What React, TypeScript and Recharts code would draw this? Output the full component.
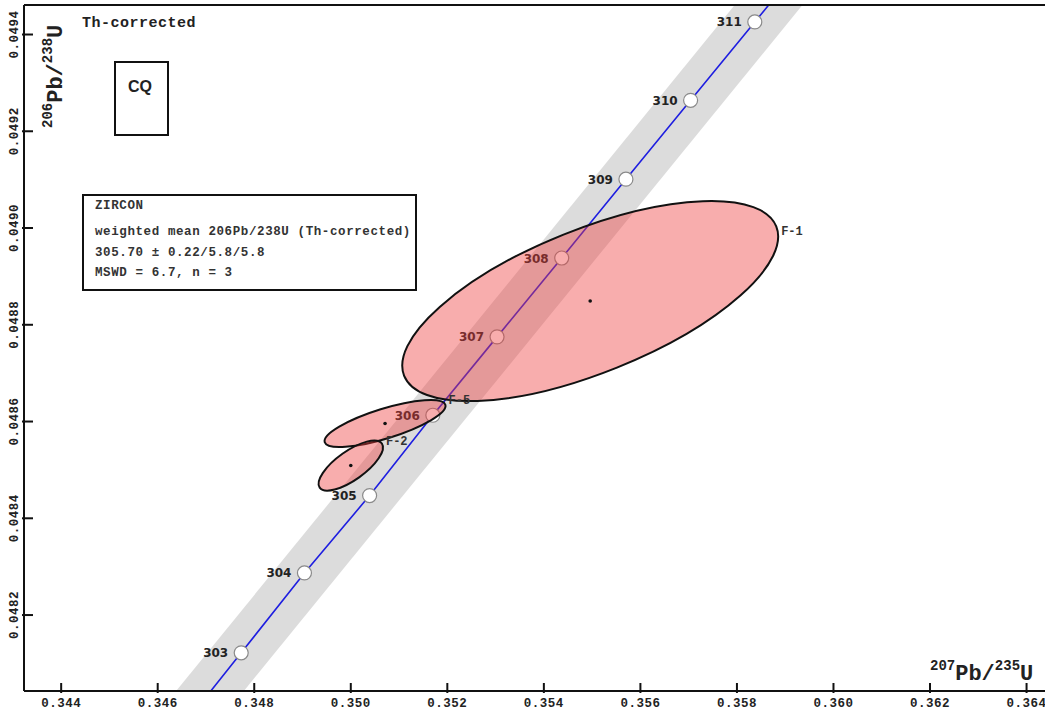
import {
  Area,
  ComposedChart,
  Line,
  ReferenceArea,
  ReferenceLine,
  Scatter,
  XAxis,
  YAxis,
} from "recharts";

const MONO = "'Liberation Mono', 'DejaVu Sans Mono', monospace";
const SANS = "'DejaVu Sans', 'Liberation Sans', sans-serif";

// 207Pb/235U (x) and 206Pb/238U (y) ranges
const X_DOMAIN: [number, number] = [0.34323, 0.3649];
const Y_DOMAIN: [number, number] = [0.048043, 0.049461];
const X_TICKS = [0.344, 0.346, 0.348, 0.35, 0.352, 0.354, 0.356, 0.358, 0.36, 0.362, 0.364];
const Y_TICKS = [0.0482, 0.0484, 0.0486, 0.0488, 0.049, 0.0492, 0.0494];

// concordia, ages in Ma
const AGES = [302, 303, 304, 305, 306, 307, 308, 309, 310, 311, 312];
const CONC_X = [0.34643, 0.34773, 0.34904, 0.35039, 0.3517, 0.35303, 0.35437, 0.3557, 0.35704, 0.35837, 0.35971];
const CONC_Y = [0.047959, 0.048122, 0.048287, 0.048447, 0.048613, 0.048775, 0.048938, 0.049101, 0.049264, 0.049426, 0.049589];
const MARKED_AGES = [303, 304, 305, 306, 307, 308, 309, 310, 311];

// decay-constant uncertainty envelope
const BAND_X = [0.3455, 0.3605];
const BAND_LO = [0.047763, 0.049601];
const BAND_HI = [0.047935, 0.049773];

// zircon spots: centre, 2-sigma half-widths, error correlation
const SPOT_NAMES = ["F-1", "F-5", "F-2"];
const SPOT_X = [0.35496, 0.35071, 0.35];
const SPOT_Y = [0.048849, 0.048596, 0.048509];
const SPOT_SX = [0.003894, 0.001253, 0.000667];
const SPOT_SY = [0.0002068, 0.0000486, 0.0000517];
const SPOT_RHO = [0.645, 0.75, 0.73];

const concordia = AGES.map((age, i) => ({ age, x: CONC_X[i], y: CONC_Y[i] }));
const markers = concordia.filter((p) => MARKED_AGES.includes(p.age));
const band = BAND_X.map((x, i) => ({ x, range: [BAND_LO[i], BAND_HI[i]] }));

const XTick = ({ x, y, payload }: any) => (
  <g>
    <line x1={x} x2={x} y1={y} y2={y - 10} stroke="#111" strokeWidth={2} />
    <text
      x={x}
      y={y + 14}
      textAnchor="middle"
      fontFamily={MONO}
      fontWeight="bold"
      fontSize={12.5}
      letterSpacing={0.5}
      fill="#222"
    >
      {payload.value.toFixed(3)}
    </text>
  </g>
);

const YTick = ({ x, y, payload }: any) => (
  <g>
    <line x1={x} x2={x + 11} y1={y} y2={y} stroke="#111" strokeWidth={2} />
    <text
      transform={`translate(${x - 4},${y}) rotate(-90)`}
      textAnchor="middle"
      fontFamily={MONO}
      fontWeight="bold"
      fontSize={12.5}
      letterSpacing={0.5}
      fill="#222"
    >
      {payload.value.toFixed(4)}
    </text>
  </g>
);

const AgeMarker = ({ cx, cy, payload }: any) => (
  <g>
    <circle cx={cx} cy={cy} r={7} fill="#fff" stroke="#8a8a8a" strokeWidth={1.2} />
    <text
      x={cx - 13}
      y={cy + 4.5}
      textAnchor="end"
      fontFamily={SANS}
      fontWeight="bold"
      fontSize={12}
      fill="#222"
    >
      {payload.age}
    </text>
  </g>
);

// ellipse inscribed in the ReferenceArea box, tilted by the error correlation
const ErrorEllipse = ({ x, y, width, height, rho, name }: any) => {
  const cx = x + width / 2;
  const cy = y + height / 2;
  const w = width / 2;
  const h = height / 2;
  const a = w * w;
  const c = h * h;
  const b = -rho * w * h;
  const d = Math.sqrt(((a - c) / 2) ** 2 + b * b);
  const rx = Math.sqrt((a + c) / 2 + d);
  const ry = Math.sqrt(Math.max((a + c) / 2 - d, 0));
  const angle = (Math.atan2(2 * b, a - c) * 90) / Math.PI;
  return (
    <g>
      <ellipse
        cx={cx}
        cy={cy}
        rx={rx}
        ry={ry}
        transform={`rotate(${angle} ${cx} ${cy})`}
        fill="#ee3b3b"
        fillOpacity={0.42}
        stroke="#111"
        strokeWidth={2}
      />
      <circle cx={cx} cy={cy} r={1.8} fill="#111" />
      <text
        x={cx + w + 3}
        y={cy - rho * h - 2}
        fontFamily={MONO}
        fontWeight="bold"
        fontSize={12}
        fill="#333"
      >
        {name}
      </text>
    </g>
  );
};

export default function App() {
  return (
    <div
      style={{
        position: "absolute",
        left: 0,
        top: 0,
        width: 1045,
        height: 711,
        overflow: "hidden",
        background: "#fff",
      }}
    >
      <ComposedChart width={1080} height={711} margin={{ top: 5, right: 10, bottom: 0, left: 0 }}>
        <XAxis
          type="number"
          dataKey="x"
          domain={X_DOMAIN}
          ticks={X_TICKS}
          interval={0}
          allowDataOverflow
          height={20}
          tickSize={0}
          tickLine={false}
          axisLine={{ stroke: "#111", strokeWidth: 2 }}
          tick={(p: any) => <XTick {...p} />}
        />
        <YAxis
          type="number"
          dataKey="y"
          domain={Y_DOMAIN}
          ticks={Y_TICKS}
          interval={0}
          allowDataOverflow
          width={24}
          tickSize={0}
          tickLine={false}
          axisLine={{ stroke: "#111", strokeWidth: 2 }}
          tick={(p: any) => <YTick {...p} />}
        />
        <Area
          data={band}
          dataKey="range"
          type="linear"
          stroke="none"
          fill="#dcdcdc"
          fillOpacity={1}
          isAnimationActive={false}
        />
        <Line
          data={concordia}
          dataKey="y"
          type="linear"
          stroke="#1e1ee0"
          strokeWidth={1.6}
          dot={false}
          isAnimationActive={false}
        />
        <Scatter data={markers} shape={AgeMarker} isAnimationActive={false} />
        {SPOT_NAMES.map((name, i) => (
          <ReferenceArea
            key={name}
            x1={SPOT_X[i] - SPOT_SX[i]}
            x2={SPOT_X[i] + SPOT_SX[i]}
            y1={SPOT_Y[i] - SPOT_SY[i]}
            y2={SPOT_Y[i] + SPOT_SY[i]}
            zIndex={700}
            shape={(p: any) => <ErrorEllipse {...p} rho={SPOT_RHO[i]} name={name} />}
          />
        ))}
        <ReferenceLine y={Y_DOMAIN[1]} stroke="#111" strokeWidth={2} />
      </ComposedChart>

      <svg
        width={1045}
        height={711}
        style={{ position: "absolute", left: 0, top: 0, pointerEvents: "none" }}
      >
        <text x={82} y={27} fontFamily={MONO} fontWeight="bold" fontSize={15} letterSpacing={0.5} fill="#222">
          Th-corrected
        </text>

        <rect x={115} y={62} width={53} height={73} fill="none" stroke="#111" strokeWidth={2} />
        <text x={140} y={92} textAnchor="middle" fontFamily="'Liberation Sans', Arial, sans-serif" fontWeight="bold" fontSize={16} fill="#222">
          CQ
        </text>

        <rect x={83} y={195} width={333} height={95} fill="#fff" stroke="#111" strokeWidth={2} />
        <g fontFamily={MONO} fontWeight="bold" fontSize={12.5} letterSpacing={0.6} fill="#333">
          <text x={95} y={209}>ZIRCON</text>
          <text x={95} y={235}>weighted mean 206Pb/238U (Th-corrected)</text>
          <text x={95} y={256}>305.70 ± 0.22/5.8/5.8</text>
          <text x={95} y={276}>MSWD = 6.7, n = 3</text>
        </g>

        <text transform="translate(62,128) rotate(-90)" fontFamily={MONO} fontWeight="bold" fill="#222">
          <tspan fontSize={14} dy={-10}>206</tspan>
          <tspan fontSize={22} dy={10}>Pb/</tspan>
          <tspan fontSize={14} dy={-10}>238</tspan>
          <tspan fontSize={22} dy={10}>U</tspan>
        </text>

        <text x={930} y={680} fontFamily={MONO} fontWeight="bold" fill="#222">
          <tspan fontSize={14} dy={-10}>207</tspan>
          <tspan fontSize={22} dy={10}>Pb/</tspan>
          <tspan fontSize={14} dy={-10}>235</tspan>
          <tspan fontSize={22} dy={10}>U</tspan>
        </text>
      </svg>
    </div>
  );
}
